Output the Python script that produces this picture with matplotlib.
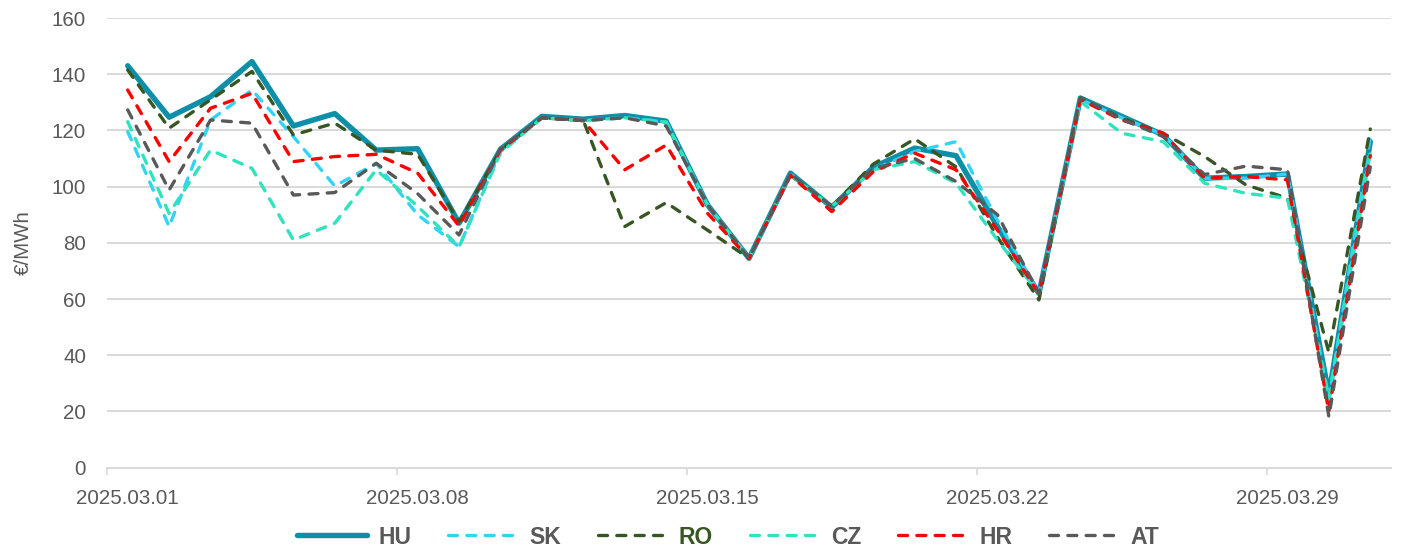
import matplotlib
matplotlib.use("Agg")
import matplotlib.pyplot as plt
import pandas as pd
import numpy as np

dates = pd.date_range("2025-03-01", "2025-03-31", freq="D")
date_labels = [d.strftime("%Y.%m.%d") for d in dates]

HU = [143, 124.7, 132, 144.5, 121.6, 126, 113, 113.5, 87, 113.3, 125, 124, 125.3, 123.3, 93.5, 74.5,
      104.8, 92.7, 106.9, 113.7, 111, 85.8, 62, 131.5, 125, 118.4, 103, 103.6, 104.5, 26, 116]
SK = [119.6, 85.8, 123.7, 134.4, 117.8, 100.2, 108.3, 90, 78.6, 112.5, 124.5, 123.5, 124.5, 123, 93.5, 74.5,
      104.5, 93, 106, 112.5, 116, 88, 62, 131, 124.5, 118.5, 103, 103, 104.5, 24, 118]
RO = [141.5, 120.8, 130.9, 141, 118.4, 122.6, 113, 111.5, 87.5, 113, 124.5, 123.5, 85.8, 94.3, 84.5, 74.5,
      104, 93, 108, 117, 107, 82, 59.7, 131.5, 124.3, 119, 110.7, 100.6, 95.9, 41, 120.5]
CZ = [123.1, 90.5, 113, 106.5, 81, 87, 106, 93, 78.6, 112, 124.5, 123.5, 124.5, 123, 93.5, 74.5,
      104, 93, 106, 108.9, 101.2, 81, 62, 130.3, 119, 116, 101.2, 97.6, 95.9, 25, 112]
HR = [134.4, 108.9, 127.9, 133.2, 108.9, 110.7, 111.5, 104.8, 86, 113, 124.5, 123.5, 106, 114.8, 90.5, 74.5,
      104, 91.1, 105.3, 111.9, 106, 84.5, 62, 131, 123.7, 119, 103, 103.6, 102.4, 20, 111]
AT = [127.3, 98.8, 123.7, 122.6, 97, 97.9, 108.3, 97.5, 82.8, 113.5, 124.5, 123.5, 124.5, 121.6, 93.5, 74.5,
      104.5, 93, 106.5, 110, 101.8, 90, 62, 131.8, 124, 117.8, 104.3, 107.3, 106, 18.2, 107]

series_names = ["HU", "SK", "RO", "CZ", "HR", "AT"]
series_values = [HU, SK, RO, CZ, HR, AT]
colors = ["#0E8FA8", "#33D3F5", "#375623", "#2EE3BE", "#FF0000", "#595959"]

plt.rcParams['font.family'] = ['Liberation Sans', 'DejaVu Sans']
TXT = "#595959"
FS = 14.8
LFS = 16.5

fig = plt.figure(figsize=(14.02, 5.52), dpi=100)
ax = fig.add_axes([107/1402, 1-467.7/552, (1391-107)/1402, (467.7-18)/552])

x = np.arange(len(dates))
for name, vals, c in zip(series_names, series_values, colors):
    if name == "HU":
        ax.plot(x, vals, color=c, lw=3.9, solid_joinstyle='round', solid_capstyle='round', label=name, zorder=3)
    else:
        ax.plot(x, vals, color=c, lw=2.4, linestyle=(0, (2.7, 2.8)), dash_capstyle='round',
                dash_joinstyle='round', label=name, zorder=3)

ax.set_xlim(-0.5, len(dates) - 0.5)
ax.set_ylim(0, 160)
ax.set_yticks(np.arange(0, 161, 20))
ax.grid(axis='y', color="#D9D9D9", lw=1.4, zorder=0)
ax.set_axisbelow(True)
for s in ["top", "right", "left"]:
    ax.spines[s].set_visible(False)
ax.spines["bottom"].set_color("#D9D9D9")
ax.spines["bottom"].set_linewidth(1.4)

major_idx = list(range(0, len(dates), 7))
ax.set_xticks(major_idx)
ax.set_xticklabels([date_labels[i] for i in major_idx])
ax.set_xticks([i - 0.5 for i in major_idx], minor=True)
ax.tick_params(axis='x', which='major', length=0, pad=15, labelsize=FS, labelcolor=TXT)
ax.tick_params(axis='x', which='minor', length=5, width=1.2, color="#D9D9D9")
ax.tick_params(axis='y', length=0, pad=15, labelsize=FS, labelcolor=TXT)

ax.set_ylabel("€/MWh", fontsize=FS, color=TXT, labelpad=14)

leg = fig.legend(loc='center', bbox_to_anchor=(728/1402, 1-537/552), ncol=6, frameon=False,
                 handlelength=3.05, handletextpad=0.5, columnspacing=1.6,
                 prop={'size': LFS, 'weight': 'bold'})
for t in leg.get_texts():
    t.set_color(TXT)
leg.get_texts()[2].set_color("#375623")

fig.savefig("out.png", dpi=100)
